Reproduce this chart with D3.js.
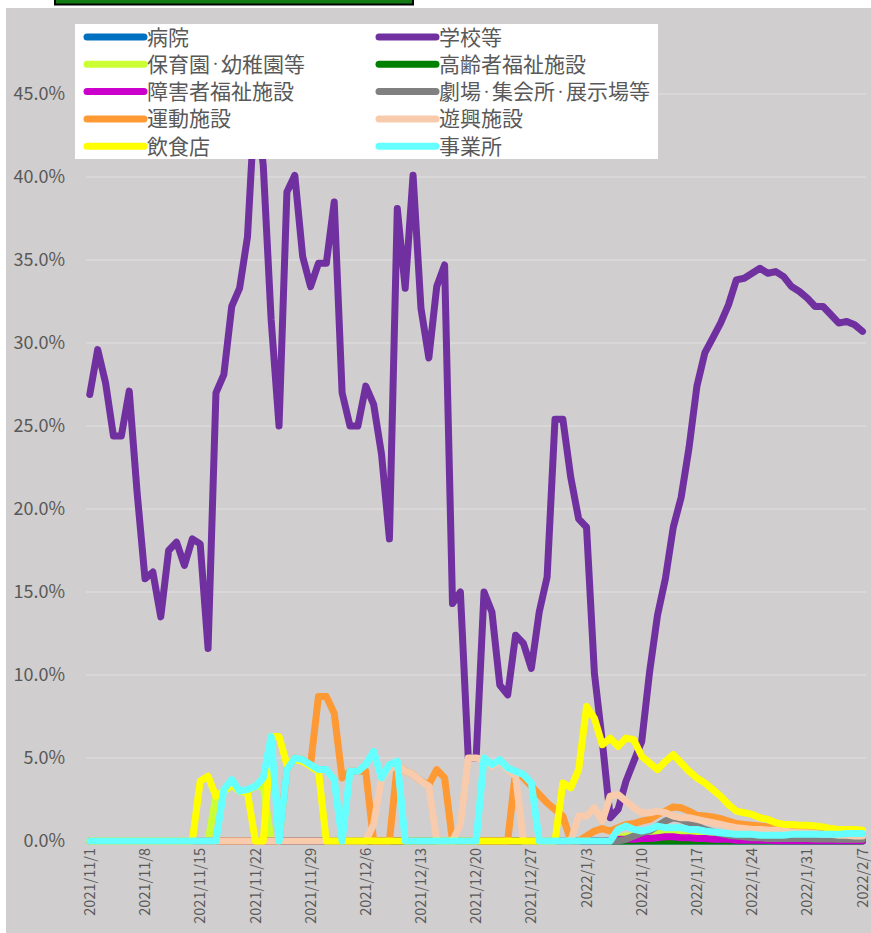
<!DOCTYPE html>
<html>
<head>
<meta charset="utf-8">
<script src="https://cdn.jsdelivr.net/npm/d3@7"></script>
<style>
  body { margin: 0; background: #fff; }
  svg { display: block; font-family: "Noto Sans CJK JP", "Noto Sans", sans-serif; }
</style>
</head>
<body>
<div id="container"></div>
<script>
// chart size
const width = 871, height = 933;

// DATA (percent, one value per day from 2021/11/1 to 2022/2/7)
const seriesNames = ["病院", "学校等", "保育園・幼稚園等", "高齢者福祉施設", "障害者福祉施設",
  "劇場・集会所・展示場等", "運動施設", "遊興施設", "飲食店", "事業所"];
const seriesColors = ["#0070c0", "#7030a0", "#ccff33", "#008000", "#cc00cc",
  "#808080", "#ff9933", "#f8cbad", "#ffff00", "#66ffff"];

const hospital = Array(99).fill(0);
const school = [26.9, 29.6, 27.6, 24.4, 24.4, 27.1, 21.0, 15.8, 16.2, 13.5,
  17.5, 18.0, 16.6, 18.2, 17.9, 11.6, 27.0, 28.1, 32.2, 33.3,
  36.4, 45.0, 40.7, 31.4, 25.0, 39.1, 40.1, 35.2, 33.4, 34.8,
  34.8, 38.5, 27.0, 25.0, 25.0, 27.4, 26.3, 23.3, 18.2, 38.1,
  33.3, 40.1, 32.1, 29.1, 33.4, 34.7, 14.3, 15.0, 5.0, 5.0,
  15.0, 13.8, 9.4, 8.8, 12.4, 11.9, 10.4, 13.8, 15.9, 25.4,
  25.4, 21.9, 19.4, 18.9, 10.1, 6.0, 1.4, 1.9, 3.6, 4.8,
  6.0, 10.2, 13.6, 15.8, 18.9, 20.7, 23.7, 27.4, 29.4, 30.3,
  31.2, 32.3, 33.8, 33.9, 34.2, 34.5, 34.2, 34.3, 34.0, 33.4,
  33.1, 32.7, 32.2, 32.2, 31.7, 31.2, 31.3, 31.1, 30.7];
const nursery = [0, 0, 0, 0, 0, 0, 0, 0, 0, 0,
  0, 0, 0, 0, 0, 0, 2.7, 3.0, 3.4, 3.0,
  3.0, 3.3, 3.3, 0, 0, 0, 0, 0, 0, 0,
  0, 0, 0, 0, 0, 0, 0, 0, 0, 0,
  0, 0, 0, 0, 0, 0, 0, 0, 0, 0,
  0, 0, 0, 0, 0, 0, 0, 0, 0, 0,
  0, 0, 0, 0, 0, 0, 0, 0.2, 0.3, 0.3,
  0.3, 0.4, 0.5, 0.5, 0.5, 0.5, 0.4, 0.4, 0.3, 0.3,
  0.3, 0.2, 0.2, 0.2, 0.2, 0.2, 0.2, 0.2, 0.2, 0.2,
  0.2, 0.15, 0.15, 0.15, 0.15, 0.15, 0.15, 0.15, 0.15];
const elderly = Array(99).fill(0);
const disabled = [0, 0, 0, 0, 0, 0, 0, 0, 0, 0,
  0, 0, 0, 0, 0, 0, 0, 0, 0, 0,
  0, 0, 0, 0, 0, 0, 0, 0, 0, 0,
  0, 0, 0, 0, 0, 0, 0, 0, 0, 0,
  0, 0, 0, 0, 0, 0, 0, 0, 0, 0,
  0, 0, 0, 0, 0, 0, 0, 0, 0, 0,
  0, 0, 0, 0, 0, 0, 0.05, 0.1, 0.1, 0.1,
  0.15, 0.15, 0.2, 0.25, 0.25, 0.2, 0.2, 0.15, 0.15, 0.1,
  0.1, 0.1, 0.05, 0.05, 0.05, 0.05, 0.05, 0.02, 0.02, 0.02,
  0.02, 0.02, 0.02, 0.02, 0.02, 0.02, 0.02, 0.02, 0.02];
const theater = [0, 0, 0, 0, 0, 0, 0, 0, 0, 0,
  0, 0, 0, 0, 0, 0, 0, 0, 0, 0,
  0, 0, 0, 0, 0, 0, 0, 0, 0, 0,
  0, 0, 0, 0, 0, 0, 0, 0, 0, 0,
  0, 0, 0, 0, 0, 0, 0, 0, 0, 0,
  0, 0, 0, 0, 0, 0, 0, 0, 0, 0,
  0, 0, 0, 0, 0, 0, 0, 0, 0.1, 0.3,
  0.5, 0.6, 0.9, 1.2, 1.4, 1.3, 1.1, 0.9, 0.7, 0.55,
  0.45, 0.35, 0.3, 0.25, 0.2, 0.2, 0.15, 0.15, 0.15, 0.15,
  0.15, 0.15, 0.12, 0.12, 0.12, 0.1, 0.1, 0.1, 0.1];
const sports = [0, 0, 0, 0, 0, 0, 0, 0, 0, 0,
  0, 0, 0, 0, 0, 0, 0, 0, 0, 0,
  0, 0, 0, 0, 0, 4.3, 5.0, 4.9, 4.6, 8.7,
  8.7, 7.7, 3.8, 4.2, 4.2, 4.2, 0, 0, 0, 4.6,
  4.2, 4.0, 3.6, 3.4, 4.3, 3.8, 0, 0, 0, 0,
  0, 0, 0, 0, 4.2, 3.8, 3.3, 2.8, 2.3, 1.9,
  1.5, 0, 0, 0.3, 0.6, 0.75, 0.6, 0.8, 1.0, 1.05,
  1.2, 1.3, 1.6, 1.8, 2.05, 2.0, 1.8, 1.55, 1.5, 1.45,
  1.35, 1.2, 1.05, 1.0, 0.95, 0.9, 0.85, 0.8, 0.7, 0.65,
  0.6, 0.6, 0.55, 0.55, 0.5, 0.5, 0.45, 0.45, 0.45];
const amusement = [0, 0, 0, 0, 0, 0, 0, 0, 0, 0,
  0, 0, 0, 0, 0, 0, 0, 0, 0, 0,
  0, 0, 0, 0, 0, 0, 0, 0, 0, 0,
  0, 0, 0, 0, 0, 0, 1.0, 3.8, 4.3, 4.6,
  4.2, 4.0, 3.6, 3.3, 0, 0, 0, 1.0, 5.0, 5.0,
  4.9, 4.5, 4.8, 4.3, 3.9, 0, 0, 0, 0, 0,
  0, 0, 1.5, 1.5, 2.0, 1.2, 2.7, 2.8, 2.4, 2.0,
  1.7, 1.7, 1.8, 1.7, 1.5, 1.4, 1.4, 1.3, 1.2, 1.1,
  1.0, 0.9, 0.8, 0.75, 0.7, 0.7, 0.65, 0.65, 0.6, 0.55,
  0.5, 0.5, 0.45, 0.4, 0.4, 0.35, 0.35, 0.3, 0.3];
const restaurant = [0, 0, 0, 0, 0, 0, 0, 0, 0, 0,
  0, 0, 0, 0, 3.6, 3.9, 2.7, 3.0, 3.4, 3.0,
  2.9, 0, 0, 6.3, 6.3, 4.6, 4.9, 4.8, 4.5, 4.2,
  0, 0, 0, 0, 0, 0, 0, 0, 0, 0,
  0, 0, 0, 0, 0, 0, 0, 0, 0, 0,
  0, 0, 0, 0, 0, 0, 0, 0, 0, 0,
  3.5, 3.2, 4.3, 8.1, 7.4, 5.8, 6.2, 5.7, 6.2, 6.1,
  5.1, 4.7, 4.3, 4.8, 5.2, 4.7, 4.2, 3.8, 3.5, 3.1,
  2.7, 2.2, 1.8, 1.7, 1.6, 1.4, 1.3, 1.1, 1.0, 1.0,
  0.95, 0.95, 0.9, 0.85, 0.75, 0.7, 0.7, 0.7, 0.65];
const office = [0, 0, 0, 0, 0, 0, 0, 0, 0, 0,
  0, 0, 0, 0, 0, 0, 0, 3.1, 3.7, 3.0,
  3.1, 3.3, 3.8, 6.3, 0, 4.3, 5.0, 4.9, 4.6, 4.3,
  4.3, 3.7, 0, 4.2, 4.2, 4.6, 5.4, 3.8, 4.6, 4.8,
  0, 0, 0, 0, 0, 0, 0, 0, 0, 0,
  5.0, 4.6, 4.9, 4.4, 4.2, 4.0, 3.5, 0, 0, 0,
  0, 0, 0, 0, 0, 0, 0, 0.7, 0.9, 0.7,
  0.6, 0.7, 0.9, 0.8, 0.8, 0.8, 0.7, 0.7, 0.6, 0.55,
  0.5, 0.45, 0.4, 0.4, 0.4, 0.35, 0.35, 0.35, 0.35, 0.4,
  0.4, 0.4, 0.4, 0.4, 0.4, 0.4, 0.45, 0.45, 0.45];

const seriesValues = [hospital, school, nursery, elderly, disabled,
  theater, sports, amusement, restaurant, office];

const xTickLabels = ["2021/11/1", "2021/11/8", "2021/11/15", "2021/11/22", "2021/11/29",
  "2021/12/6", "2021/12/13", "2021/12/20", "2021/12/27", "2022/1/3",
  "2022/1/10", "2022/1/17", "2022/1/24", "2022/1/31", "2022/2/7"];
const yTicks = [0, 5, 10, 15, 20, 25, 30, 35, 40, 45];

// dates (categories)
const parseDate = d3.timeParse("%Y/%m/%d");
const dates = d3.timeDay.range(parseDate("2021/11/1"), d3.timeDay.offset(parseDate("2022/2/7"), 1));
const tickDates = xTickLabels.map(parseDate);

// SCALES
const xScale = d3.scaleTime()
  .domain([dates[0], dates[dates.length - 1]])
  .range([89.8, 862.5]);
const yScale = d3.scaleLinear()
  .domain([0, 50])
  .range([841, 11]);

const svg = d3.select("#container").append("svg")
  .attr("width", width)
  .attr("height", height);

// chart area background
svg.append("rect")
  .attr("x", 6).attr("y", 8)
  .attr("width", width - 6).attr("height", height - 8)
  .attr("fill", "#d0cece");

// cut-off box at the very top
svg.append("rect")
  .attr("x", 55).attr("y", -4)
  .attr("width", 358).attr("height", 8.5)
  .attr("fill", "#127a12")
  .attr("stroke", "#000")
  .attr("stroke-width", 2);

// gridlines
svg.append("g")
  .selectAll("line")
  .data(yTicks)
  .join("line")
    .attr("x1", 86).attr("x2", 866)
    .attr("y1", d => yScale(d)).attr("y2", d => yScale(d))
    .attr("stroke", "#dcdada")
    .attr("stroke-width", 1.3);

// y axis labels
const yAxis = d3.axisLeft(yScale).tickValues(yTicks).tickSize(0).tickPadding(0)
  .tickFormat(d => d3.format(".1f")(d) + "%");
svg.append("g")
  .attr("transform", "translate(65,0)")
  .call(yAxis)
  .call(g => g.select(".domain").remove())
  .selectAll("text")
    .attr("fill", "#595959")
    .attr("font-size", "18px")
    .attr("font-family", "'Noto Sans CJK JP', 'Noto Sans', sans-serif");

// x axis labels
const xAxis = d3.axisBottom(xScale).tickValues(tickDates).tickSize(0)
  .tickFormat((d, i) => xTickLabels[i]);
svg.append("g")
  .attr("transform", `translate(0,${yScale(0)})`)
  .call(xAxis)
  .call(g => g.select(".domain").remove())
  .selectAll("text")
    .attr("transform", "rotate(-90)")
    .attr("text-anchor", "end")
    .attr("x", -7)
    .attr("y", 0)
    .attr("dy", "0.32em")
    .attr("fill", "#595959")
    .attr("font-size", "14.5px")
    .attr("font-family", "'Noto Sans CJK JP', 'Noto Sans', sans-serif");

// lines
const line = d3.line()
  .x((d, i) => xScale(dates[i]))
  .y(d => yScale(d));

svg.append("g")
  .selectAll("path")
  .data(seriesValues)
  .join("path")
    .attr("d", d => line(d))
    .attr("fill", "none")
    .attr("stroke", (d, i) => seriesColors[i])
    .attr("stroke-width", 7)
    .attr("stroke-linejoin", "round")
    .attr("stroke-linecap", "round");

// legend
const legend = svg.append("g");
legend.append("rect")
  .attr("x", 75).attr("y", 24)
  .attr("width", 583).attr("height", 135)
  .attr("fill", "#fff");

const legendItems = legend.selectAll("g.item")
  .data(seriesNames)
  .join("g")
    .attr("class", "item")
    .attr("transform", (d, i) => `translate(${i % 2 === 0 ? 87 : 379},${37 + Math.floor(i / 2) * 27.3})`);

legendItems.append("line")
  .attr("x1", 0).attr("x2", 57)
  .attr("y1", 0).attr("y2", 0)
  .attr("stroke", (d, i) => seriesColors[i])
  .attr("stroke-width", 7)
  .attr("stroke-linecap", "round");

// the middle dot is narrow in the original font: draw it smaller
legendItems.append("text")
  .attr("x", 60)
  .attr("y", 0)
  .attr("dy", "0.36em")
  .attr("fill", "#595959")
  .attr("font-size", "21px")
  .each(function(d) {
    const t = d3.select(this);
    let afterDot = false;
    d.split(/(・)/).filter(p => p).forEach(p => {
      const isDot = p === "・";
      const ts = t.append("tspan").text(p);
      if (isDot) ts.attr("font-size", "11px").attr("dy", -3.5);
      else if (afterDot) ts.attr("dy", 3.5);
      afterDot = isDot;
    });
  });
</script>
</body>
</html>
